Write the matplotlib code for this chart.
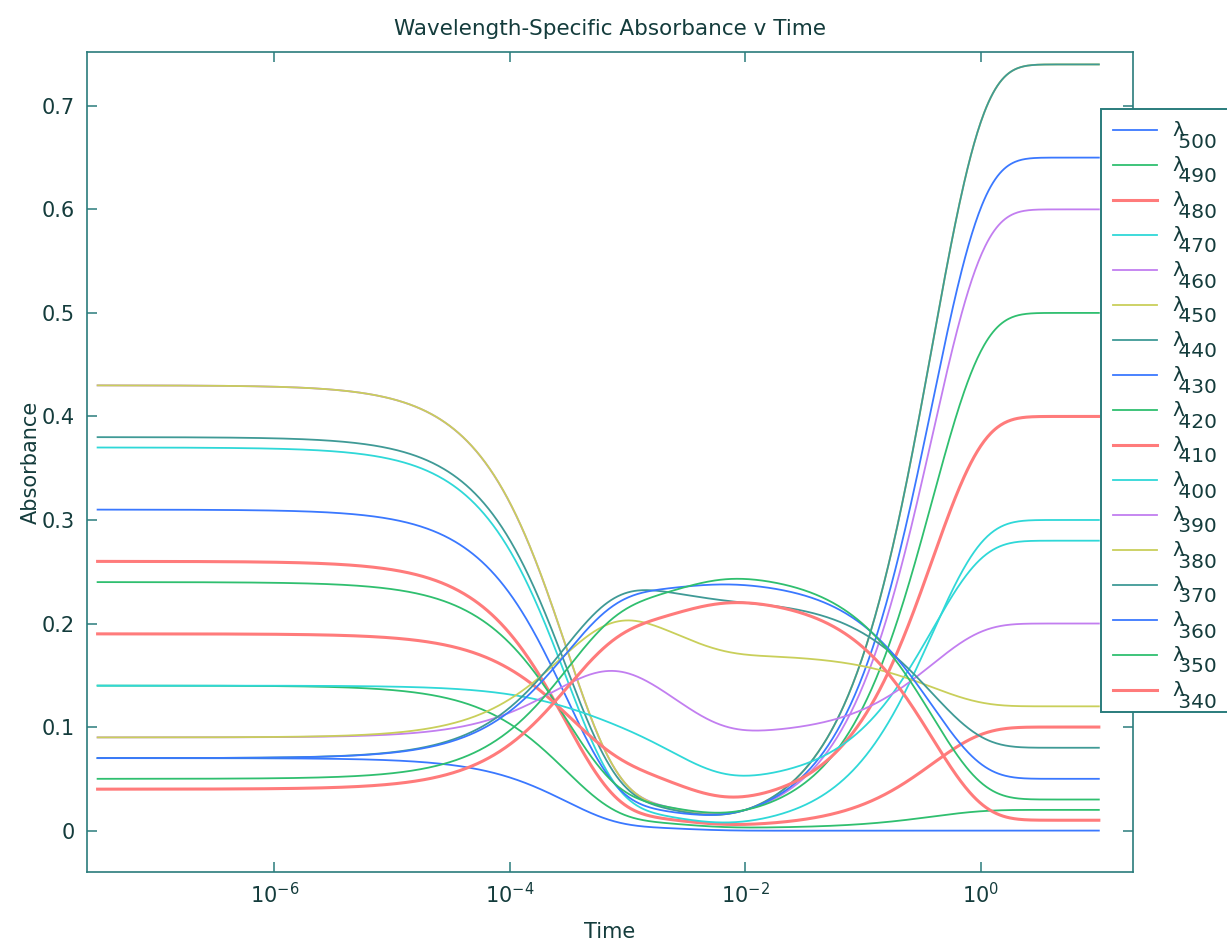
import numpy as np
import matplotlib.pyplot as plt
from matplotlib.lines import Line2D
from matplotlib.patches import Rectangle
from matplotlib.ticker import FixedLocator, NullLocator, FuncFormatter

# wavelengths (nm), legend order
wavelengths = [500, 490, 480, 470, 460, 450, 440, 430, 420, 410, 400, 390, 380, 370, 360, 350, 340]

# absorbance: at start, at t=1e-3, at t=1e-2, at the end
abs_start = [0.07, 0.14, 0.26, 0.37, 0.43, 0.43, 0.38, 0.31, 0.24, 0.19, 0.14, 0.09, 0.09, 0.07, 0.07, 0.05, 0.04]
abs_1ms = [0.006, 0.014, 0.023, 0.031, 0.043, 0.043, 0.040, 0.033, 0.036, 0.065, 0.097, 0.152, 0.203, 0.230, 0.225, 0.215, 0.193]
abs_10ms = [0.000, 0.003, 0.006, 0.009, 0.020, 0.020, 0.020, 0.020, 0.020, 0.033, 0.053, 0.097, 0.170, 0.220, 0.237, 0.243, 0.220]
abs_end = [0.00, 0.02, 0.10, 0.30, 0.60, 0.74, 0.74, 0.65, 0.50, 0.40, 0.28, 0.20, 0.12, 0.08, 0.05, 0.03, 0.01]

# A -> B -> C -> D first order rate constants (1/s)
k1, k2, k3 = 3400.0, 400.0, 2.6

colors = ['#3a78ff', '#2fbf6f', '#ff7b7b', '#2fd8d8', '#c27ef0', '#c9cf5a', '#3f9a96']
frame = '#2a7c7c'
textc = '#143c3c'


def conc(t):
    a = np.exp(-k1 * t)
    b = k1 / (k2 - k1) * (np.exp(-k1 * t) - np.exp(-k2 * t))
    c = k1 * k2 * (np.exp(-k1 * t) / ((k2 - k1) * (k3 - k1))
                   + np.exp(-k2 * t) / ((k1 - k2) * (k3 - k2))
                   + np.exp(-k3 * t) / ((k1 - k3) * (k2 - k3)))
    d = 1 - a - b - c
    return np.array([a, b, c, d])


t = np.logspace(-7.5, 1, 900)
M = conc(np.array([t[0], 1e-3, 1e-2, t[-1]])).T
C = conc(t)

W, H = 1227, 940
fig = plt.figure(figsize=(W / 100, H / 100), dpi=100)
ax = fig.add_axes([87 / W, 1 - 872 / H, (1133 - 87) / W, (872 - 52) / H])

for i, wl in enumerate(wavelengths):
    eps = np.linalg.solve(M, [abs_start[i], abs_1ms[i], abs_10ms[i], abs_end[i]])
    lw = 2.2 if i % 7 == 2 else 1.3
    ax.plot(t, eps @ C, color=colors[i % 7], lw=lw)

ax.set_xscale('log')
ax.set_xlim(10 ** -7.59, 10 ** 1.29)
ax.set_ylim(-0.04, 0.752)
ax.xaxis.set_major_locator(FixedLocator([1e-6, 1e-4, 1e-2, 1e0]))
ax.xaxis.set_minor_locator(NullLocator())
ax.yaxis.set_major_locator(FixedLocator(np.arange(0, 0.71, 0.1)))
ax.yaxis.set_major_formatter(FuncFormatter(lambda v, p: '%g' % round(v, 2)))

for s in ax.spines.values():
    s.set_color(frame)
    s.set_linewidth(1.2)
ax.tick_params(direction='in', length=7, width=1.1, top=True, right=True,
               color=frame, labelsize=15, labelcolor=textc)
ax.tick_params(axis='y', pad=9)
ax.tick_params(axis='x', pad=7)

ax.set_title('Wavelength-Specific Absorbance v Time', fontsize=15.5, color=textc, pad=12)
ax.set_xlabel('Time', fontsize=15, color=textc, labelpad=11)
ax.set_ylabel('Absorbance', fontsize=15, color=textc, labelpad=0)

# legend box, runs off the right edge like the original
box = Rectangle((1101 / W, 1 - 712 / H), 200 / W, (712 - 109) / H, transform=fig.transFigure,
                facecolor='white', edgecolor=frame, lw=1.4, clip_on=False, zorder=4.5)
ax.add_patch(box)

# legend entries: sample line, then lambda with a large subscript
for i, wl in enumerate(wavelengths):
    y = 130 + 35 * i
    lw = 2.2 if i % 7 == 2 else 1.3
    fig.add_artist(Line2D([1113 / W, 1157 / W], [1 - y / H] * 2, color=colors[i % 7], lw=lw))
    fig.text(1172 / W, 1 - (y - 9) / H, '\u03bb\n %d' % wl, fontsize=14.5, color=textc,
             va='top', ha='left', linespacing=0.5)

fig.savefig('out.png', dpi=100)
